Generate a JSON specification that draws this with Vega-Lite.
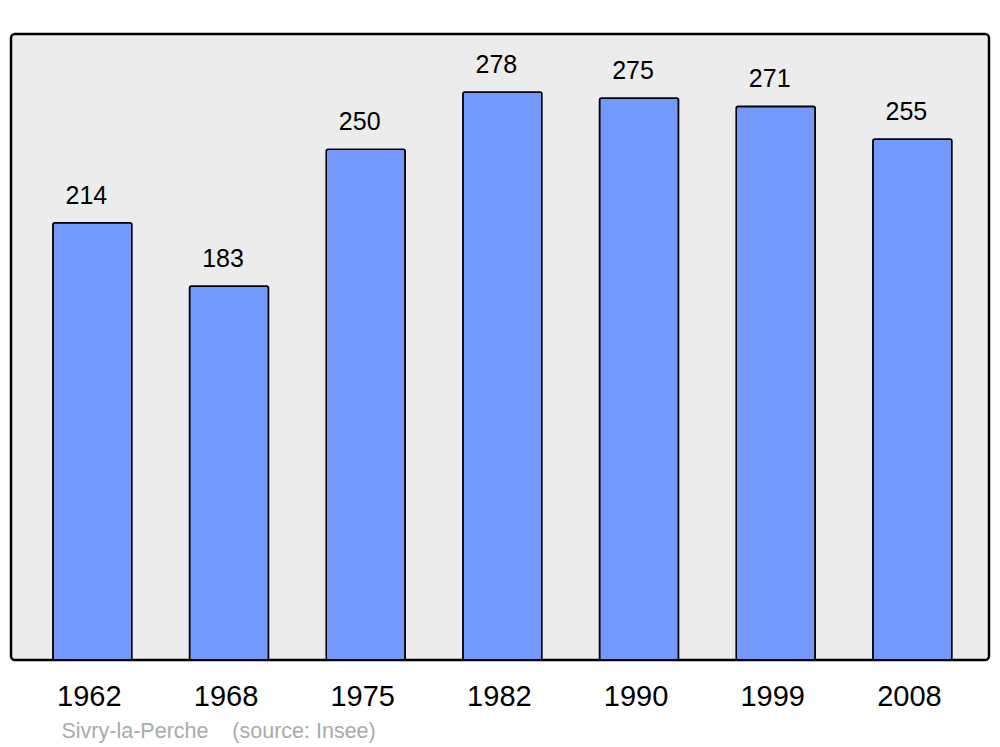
{
  "$schema": "https://vega.github.io/schema/vega-lite/v6.json",
  "width": 978,
  "height": 626,
  "autosize": {"type": "none"},
  "padding": {"left": 11, "top": 34, "right": 11, "bottom": 87},
  "background": "white",
  "config": {
    "font": "Liberation Sans",
    "view": {"fill": "#ececec", "stroke": "#000000", "strokeWidth": 2.5, "cornerRadius": 4}
  },
  "data": {
    "values": [
      {"year": "1962", "pop": 214},
      {"year": "1968", "pop": 183},
      {"year": "1975", "pop": 250},
      {"year": "1982", "pop": 278},
      {"year": "1990", "pop": 275},
      {"year": "1999", "pop": 271},
      {"year": "2008", "pop": 255}
    ]
  },
  "encoding": {
    "x": {
      "field": "year",
      "type": "ordinal",
      "sort": null,
      "scale": {"paddingInner": 0.422, "paddingOuter": 0.289, "align": 0.53},
      "axis": {
        "title": "Sivry-la-Perche\u00a0\u00a0\u00a0\u00a0(source: Insee)",
        "titleX": 50,
        "titleY": 77,
        "titleAlign": "left",
        "titleBaseline": "alphabetic",
        "titleColor": "#aaaaaa",
        "titleFontSize": 21.5,
        "titleFontWeight": "normal",
        "titleFont": "Liberation Sans",
        "labelAngle": 0,
        "labelFontSize": 29,
        "labelColor": "#000000",
        "labelFont": "Liberation Sans",
        "labelPadding": 22,
        "labelOffset": -3,
        "ticks": false,
        "domain": false,
        "grid": false
      }
    },
    "y": {
      "field": "pop",
      "type": "quantitative",
      "scale": {"domain": [0, 306.4], "nice": false, "zero": true},
      "axis": null
    }
  },
  "layer": [
    {
      "mark": {"type": "bar", "fill": "#7399ff", "stroke": "#000000", "strokeWidth": 1.6, "cornerRadius": 2}
    },
    {
      "mark": {"type": "text", "baseline": "alphabetic", "dy": -19, "dx": -6, "fontSize": 25, "color": "#000000", "font": "Liberation Sans"},
      "encoding": {"text": {"field": "pop", "type": "quantitative"}}
    }
  ]
}
